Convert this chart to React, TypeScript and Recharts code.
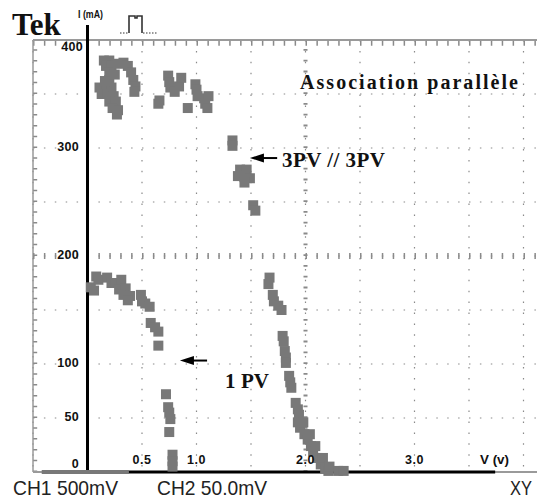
import React from "react";
import { ScatterChart, Scatter, XAxis, YAxis, CartesianGrid, ReferenceLine } from "recharts";

// ---- data (voltage V, current mA) ----
const pv3Points: [number, number][] = [
  [0.15, 381], [0.2, 381], [0.17, 376], [0.22, 376], [0.2, 370], [0.28, 378], [0.33, 379], [0.37, 376], [0.4, 370],
  [0.42, 363], [0.44, 357], [0.43, 352],
  [0.2, 363], [0.11, 356], [0.17, 356], [0.22, 356], [0.13, 350], [0.18, 350], [0.24, 348], [0.2, 343], [0.26, 343],
  [0.23, 337], [0.28, 335], [0.27, 331], [0.16, 362], [0.25, 368],
  [0.74, 367], [0.75, 361], [0.76, 356], [0.8, 352], [0.84, 357], [0.86, 365],
  [0.66, 344], [0.65, 341],
  [0.99, 359], [1.0, 354], [1.01, 348], [1.07, 346], [1.11, 348], [1.08, 341], [1.1, 337],
  [0.92, 337],
  [1.33, 307], [1.33, 302],
  [1.4, 280], [1.46, 280], [1.38, 274], [1.44, 273], [1.49, 272], [1.44, 268],
  [1.52, 247], [1.54, 242],
  [1.67, 180], [1.66, 174],
  [1.7, 164], [1.71, 158], [1.75, 154], [1.78, 150],
  [1.79, 126], [1.8, 121],
  [1.81, 112], [1.82, 106], [1.82, 101],
  [1.85, 89], [1.86, 83], [1.87, 78],
  [1.91, 64], [1.93, 58], [1.94, 53],
  [1.93, 46], [1.95, 41], [1.99, 35], [2.02, 30], [2.05, 24], [2.07, 19], [2.11, 13], [2.14, 7], [2.18, 3], [2.21, 1],
  [1.98, 46], [2.04, 35], [2.09, 24], [2.16, 13], [2.22, 5],
  [2.3, 1], [2.35, 1],
];

const pv1Points: [number, number][] = [
  [0.03, 171], [0.06, 168],
  [0.08, 181], [0.1, 178],
  [0.18, 180], [0.22, 175],
  [0.26, 175], [0.31, 178], [0.29, 169], [0.35, 170], [0.33, 164], [0.39, 163], [0.37, 159],
  [0.49, 164], [0.5, 158], [0.53, 156], [0.57, 153],
  [0.58, 138], [0.62, 134], [0.65, 130],
  [0.65, 117],
  [0.72, 72],
  [0.74, 60], [0.75, 55], [0.76, 49],
  [0.75, 37],
  [0.78, 16], [0.78, 10], [0.78, 5],
];

const zeroTrace: [number, number][] = [[-0.42, 0], [0.38, 0]];

const xGridValues = [-0.5, 0, 0.5, 1, 1.5, 2, 2.5, 3, 3.5, 4, 4.5];
const yGridValues = [0, 50, 100, 150, 200, 250, 300, 350, 400];
const xLabelValues = [0.5, 1, 2, 3];
const yLabelValues = [0, 50, 100, 200, 300, 400];

const toPts = (arr: [number, number][]) => arr.map(([v, i]) => ({ v, i }));

const BLOB = "#787878";
const GRID = "#8a8a8a";
const SANS = "'Liberation Sans', Arial, sans-serif";
const SERIF = "'Liberation Serif', 'Times New Roman', serif";

const Square = (props: any) => {
  const { cx, cy } = props;
  if (cx == null || cy == null) return <g />;
  return <rect x={cx - 5} y={cy - 5} width={10} height={10} fill={BLOB} />;
};

const renderXTick = (props: any) => {
  const { x, payload } = props;
  const v = payload.value;
  if (!xLabelValues.includes(v)) return <g />;
  return (
    <text x={x} y={464} textAnchor="middle" fontFamily={SANS} fontWeight="bold" fontSize={12.5} letterSpacing={0.5} fill="#111">
      {v.toFixed(1)}
    </text>
  );
};

const renderYTick = (props: any) => {
  const { y, payload } = props;
  const v = payload.value;
  if (!yLabelValues.includes(v)) return <g />;
  const dy = v === 400 ? 11 : v === 0 ? -4 : 3;
  const xr = v === 400 ? 83 : 79;
  return (
    <text x={xr} y={y + dy} textAnchor="end" fontFamily={SANS} fontWeight="bold" fontSize={12.5} letterSpacing={0.3} fill="#111">
      {v === 0 ? "0" : String(v)}
    </text>
  );
};

const Arrow = (props: any) => {
  const { x1, y1, x2, y2 } = props;
  if (x1 == null) return <g />;
  return (
    <g>
      <line x1={x1 + 12} y1={y1} x2={x2} y2={y2} stroke="#000" strokeWidth={2} />
      <polygon points={`${x1},${y1} ${x1 + 14},${y1 - 4.5} ${x1 + 14},${y1 + 4.5}`} fill="#000" />
    </g>
  );
};

export default function App() {
  return (
    <div style={{ position: "absolute", left: 0, top: 0, width: 537, height: 499, overflow: "hidden", background: "#fff" }}>
      <ScatterChart width={580} height={499} margin={{ top: 40, left: 3, right: 2, bottom: 7 }}>
        <CartesianGrid stroke={GRID} strokeWidth={1.2} strokeDasharray="1.5 9.4" />
        <XAxis type="number" dataKey="v" domain={[-0.5, 4.5]} ticks={xGridValues} height={20} axisLine={false} tickLine={false} tick={renderXTick} interval={0} />
        <YAxis type="number" dataKey="i" domain={[0, 400]} ticks={yGridValues} width={30} axisLine={false} tickLine={false} tick={renderYTick} interval={0} />
        {/* graticule borders and centre ticks */}
        <ReferenceLine y={400} stroke="#9a9a9a" strokeWidth={2} ifOverflow="visible" />
        <ReferenceLine y={397} stroke={GRID} strokeWidth={5} strokeDasharray="1.5 9.4" />
        <ReferenceLine x={-0.5} stroke="#9a9a9a" strokeWidth={1.5} ifOverflow="visible" />
        <ReferenceLine x={-0.48} stroke={GRID} strokeWidth={4} strokeDasharray="1.5 9.3" />
        <ReferenceLine y={0} stroke="#9a9a9a" strokeWidth={2} ifOverflow="visible" />
        <ReferenceLine y={200} stroke={GRID} strokeWidth={6} strokeDasharray="1.5 9.4" />
        <ReferenceLine x={2} stroke={GRID} strokeWidth={4} strokeDasharray="1.8 9" />
        <Scatter data={toPts(zeroTrace)} line={{ stroke: BLOB, strokeWidth: 4 }} shape={() => <g />} isAnimationActive={false} />
        <Scatter data={toPts(pv3Points)} shape={<Square />} isAnimationActive={false} />
        <Scatter data={toPts(pv1Points)} shape={<Square />} isAnimationActive={false} />
        {/* drawn axes */}
        <ReferenceLine segment={[{ x: 0, y: 0 }, { x: 0, y: 414 }]} stroke="#000" strokeWidth={3} ifOverflow="visible" />
        <ReferenceLine segment={[{ x: 0, y: 0 }, { x: 3.74, y: 0 }]} stroke="#000" strokeWidth={3} ifOverflow="visible" />
        {/* arrows */}
        <ReferenceLine segment={[{ x: 1.49, y: 290.7 }, { x: 1.74, y: 290.7 }]} shape={<Arrow />} ifOverflow="visible" />
        <ReferenceLine segment={[{ x: 0.848, y: 103.2 }, { x: 1.097, y: 103.2 }]} shape={<Arrow />} ifOverflow="visible" />
      </ScatterChart>
      <svg width={537} height={499} style={{ position: "absolute", left: 0, top: 0, pointerEvents: "none" }}>
        <text x={12} y={35} fontFamily={SERIF} fontWeight="bold" fontSize={31} fill="#111">Tek</text>
        <text x={78} y={18} fontFamily={SANS} fontWeight="bold" fontSize={10} fill="#111" textLength={25} lengthAdjust="spacingAndGlyphs">I (mA)</text>
        <g stroke="#333" fill="none">
          <path d="M120 33 H128" strokeWidth={1.2} strokeDasharray="1.5 1.5" />
          <path d="M129 33 V16 H135 V18 H137 V16 H142 V33" strokeWidth={1.6} />
          <path d="M143 33 H158" strokeWidth={1.2} strokeDasharray="1.5 1.5" />
        </g>
        <text x={300} y={89} fontFamily={SERIF} fontWeight="bold" fontSize={20} fill="#111" textLength={218} lengthAdjust="spacing">Association parallèle</text>
        <text x={282} y={167} fontFamily={SERIF} fontWeight="bold" fontSize={21} fill="#111" textLength={103} lengthAdjust="spacing">3PV // 3PV</text>
        <text x={225} y={388} fontFamily={SERIF} fontWeight="bold" fontSize={21} fill="#111" textLength={44} lengthAdjust="spacing">1 PV</text>
        <text x={480} y={464} fontFamily={SANS} fontWeight="bold" fontSize={12.5} fill="#111" textLength={29} lengthAdjust="spacingAndGlyphs">V (v)</text>
        <text x={13} y={495} fontFamily={SANS} fontSize={21} fill="#222" textLength={105} lengthAdjust="spacingAndGlyphs">CH1 500mV</text>
        <text x={157} y={495} fontFamily={SANS} fontSize={21} fill="#222" textLength={110} lengthAdjust="spacingAndGlyphs">CH2 50.0mV</text>
        <text x={510} y={495} fontFamily={SANS} fontSize={21} fill="#222" textLength={22} lengthAdjust="spacingAndGlyphs">XY</text>
      </svg>
    </div>
  );
}
